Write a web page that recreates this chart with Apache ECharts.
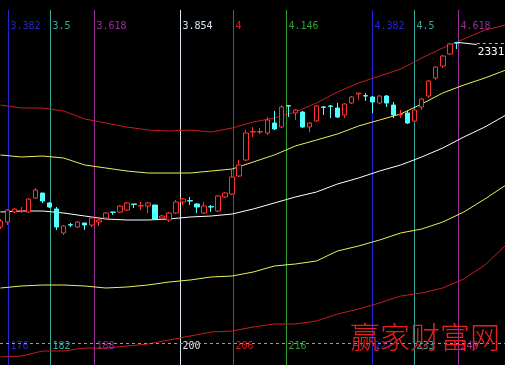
<!DOCTYPE html>
<html>
<head>
<meta charset="utf-8">
<script src="https://cdn.jsdelivr.net/npm/echarts@6/dist/echarts.min.js"></script>
<style>
html,body{margin:0;padding:0;background:#000;}
#main{width:505px;height:365px;}
</style>
</head>
<body>
<div id="main"></div>
<script>
// ---- candles (index = bar number) ----
const opens  = [1776,1791,1821,1824,1821,1863,1878,1848,1830,1758,
                1783,1776,1788,1782,1791,1803,1821,1821,1827,1845,
                1839,1839,1842,1803,1797,1818,1851,1855,1845,1818,
                1837,1824,1866,1875,1929,1977,2061,2061,2058,2088,
                2076,2140,2118,2121,2076,2094,2136,2139,2133,2112,
                2148,2175,2170,2166,2148,2169,2142,2112,2118,2094,
                2136,2169,2223,2259,2295,2329];
const closes = [1794,1827,1830,1825,1860,1887,1854,1836,1776,1779,
                1782,1791,1782,1803,1797,1818,1820,1839,1848,1844,
                1840,1848,1800,1809,1818,1851,1860,1854,1836,1839,
                1836,1869,1878,1926,1962,2058,2062,2062,2097,2070,
                2136,2139,2127,2076,2088,2139,2135,2138,2106,2145,
                2166,2178,2169,2151,2169,2148,2112,2113,2088,2127,
                2160,2214,2256,2289,2325,2328];
const lows   = [1770,1782,1818,1818,1818,1860,1848,1833,1767,1752,
                1776,1773,1767,1776,1779,1800,1812,1818,1824,1833,
                1827,1818,1800,1797,1791,1815,1842,1842,1818,1815,
                1821,1821,1863,1872,1926,1974,2046,2055,2052,2067,
                2073,2106,2097,2073,2061,2091,2112,2103,2103,2103,
                2145,2157,2154,2118,2145,2136,2103,2103,2085,2091,
                2127,2163,2217,2253,2292,2310];
const highs  = [1800,1830,1833,1836,1863,1893,1878,1851,1836,1782,
                1788,1794,1788,1806,1803,1821,1821,1842,1851,1845,
                1851,1851,1842,1812,1821,1857,1863,1866,1848,1851,
                1842,1872,1881,1947,1977,2067,2076,2073,2106,2124,
                2142,2142,2130,2124,2091,2142,2139,2142,2148,2148,
                2169,2178,2178,2169,2172,2172,2151,2127,2124,2130,
                2163,2217,2259,2292,2328,2331];

// ---- channel lines, sampled every 3 bars ----
const lineIdx     = [0,3,6,9,12,15,18,21,24,27,30,33,36,39,42,45,48,51,54,57,60,63,66,69,72];
const redUpper    = [2142,2133,2133,2124,2100,2088,2076,2067,2064,2067,2061,2073,2091,2103,2121,2148,2181,2208,2229,2250,2283,2313,2340,2367,2382];
const yellowUpper = [1992,1986,1989,1983,1962,1953,1944,1938,1938,1938,1944,1950,1971,1992,2019,2037,2055,2079,2097,2115,2145,2178,2202,2223,2247];
const whiteMid    = [1821,1824,1824,1818,1809,1800,1797,1797,1800,1806,1809,1815,1830,1848,1866,1881,1905,1923,1944,1962,1986,2013,2046,2076,2112];
const yellowLower = [1593,1599,1602,1602,1599,1593,1596,1602,1611,1617,1626,1629,1641,1659,1665,1674,1704,1719,1737,1758,1770,1791,1821,1860,1902];
const redLower    = [1386,1389,1404,1404,1413,1413,1419,1425,1437,1449,1461,1464,1476,1485,1485,1494,1515,1530,1548,1569,1578,1593,1620,1662,1722];

// ---- Fibonacci time lines ----
const fibPos    = [1.0, 7.12, 13.25, 25.64, 33.05, 40.6, 52.85, 58.97, 65.1];
const fibTop    = ['3.382','3.5','3.618','3.854','4','4.146','4.382','4.5','4.618'];
const fibBottom = ['176','182','188','200','206','216','227','233','240'];
const fibColors = ['#2424d8','#38a8a0','#9a2c9a','#d8e4f4','#e01c1c','#2ea02e','#2424d8','#38a8a0','#9a2c9a'];

const refLevel = 1428;      // dashed horizontal level
const peakIdx = 65, peakVal = 2331;

const candleData = opens.map((o, i) => [i, o, closes[i], lows[i], highs[i]]);
const mk = arr => arr.map((v, i) => [lineIdx[i], v]);

const chart = echarts.init(document.getElementById('main'), null, {renderer: 'canvas'});

const lineSeries = (data, color) => ({
  type: 'line', data: mk(data), symbol: 'none', silent: true,
  lineStyle: {color: color, width: 1}, z: 3, animation: false
});

chart.setOption({
  backgroundColor: '#000',
  animation: false,
  grid: {left: 0, right: 0, top: 0, bottom: 0},
  xAxis: {type: 'value', min: -0.0712, max: 71.866, show: false, splitLine: {show: false}},
  yAxis: {type: 'value', min: 1362, max: 2457, show: false, splitLine: {show: false}},
  series: [
    {
      type: 'custom', z: 1, silent: true,
      data: fibPos.map((p, i) => [p, i]),
      renderItem: function (params, api) {
        const i = api.value(1);
        const x = Math.round(api.coord([api.value(0), 2000])[0]) + 0.5;
        const cs = params.coordSys;
        const c = fibColors[i];
        return {type: 'group', children: [
          {type: 'line', shape: {x1: x, y1: cs.y + 10, x2: x, y2: cs.y + cs.height},
           style: {stroke: c, lineWidth: 1}},
          {type: 'text', style: {x: x + 2, y: cs.y + 26, text: fibTop[i], fill: c,
            font: '10px "DejaVu Sans Mono"', verticalAlign: 'middle'}},
          {type: 'text', style: {x: x + 2, y: cs.y + 346, text: fibBottom[i], fill: c,
            font: '10px "DejaVu Sans Mono"', verticalAlign: 'middle'}}
        ]};
      }
    },
    {
      type: 'line', data: [], symbol: 'none', z: 2,
      markLine: {
        silent: true, symbol: 'none', label: {show: false},
        lineStyle: {color: '#9a9a9a', type: [3, 3], width: 1},
        data: [{yAxis: refLevel}]
      }
    },
    lineSeries(redUpper, '#c81c1c'),
    lineSeries(yellowUpper, '#eeee5a'),
    lineSeries(whiteMid, '#ffffff'),
    lineSeries(yellowLower, '#eeee5a'),
    lineSeries(redLower, '#c81c1c'),
    {
      type: 'candlestick', z: 5,
      data: candleData,
      encode: {x: 0, y: [1, 2, 3, 4]},
      barWidth: 5,
      itemStyle: {
        color: '#000', borderColor: '#ff3232',
        color0: '#54ffff', borderColor0: '#54ffff', borderWidth: 1
      }
    },
    {
      type: 'custom', z: 6, silent: true,
      data: [[peakIdx, peakVal]],
      renderItem: function (params, api) {
        const pt = api.coord([api.value(0), api.value(1)]);
        const cs = params.coordSys;
        const x = pt[0], y = Math.round(pt[1]) + 0.5;
        return {type: 'group', children: [
          {type: 'line', shape: {x1: x + 2, y1: y, x2: x + 20, y2: y + 2},
           style: {stroke: '#ffffff', lineWidth: 1}},
          {type: 'line', shape: {x1: x + 20, y1: y + 1, x2: cs.x + cs.width, y2: y + 1},
           style: {stroke: '#b0b0b0', lineWidth: 1, lineDash: [3, 3]}},
          {type: 'text', style: {x: x + 21, y: y + 10, text: String(api.value(1)), fill: '#ffffff',
            font: '11px "DejaVu Sans Mono"', verticalAlign: 'middle'}}
        ]};
      }
    }
  ],
  graphic: [
    {type: 'text', left: 350, top: 322, z: 100,
     style: {text: '赢家财富网', fill: '#e42020', font: '200 30px "Noto Sans CJK SC"'}}
  ]
});
</script>
</body>
</html>
